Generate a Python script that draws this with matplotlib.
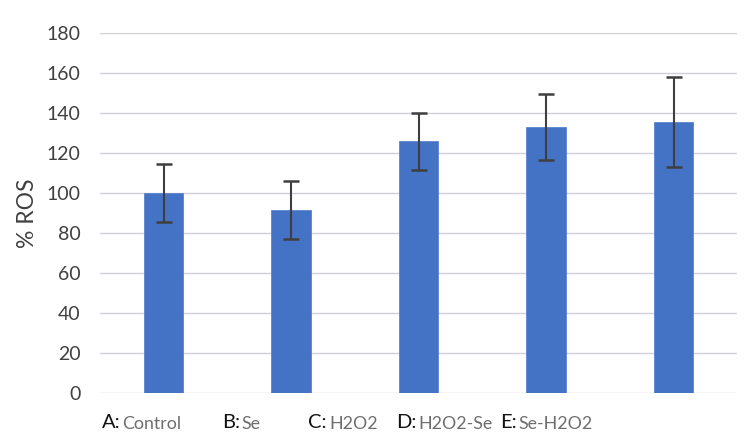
import matplotlib
matplotlib.use("Agg")
import matplotlib.pyplot as plt

plt.rcParams['font.family'] = ['Lato', 'DejaVu Sans']

prefixes = ['A:', 'B:', 'C:', 'D:', 'E:']
groups = ['Control', 'Se', 'H2O2', 'H2O2-Se', 'Se-H2O2']
ros = [100, 91.5, 125.8, 133, 135.5]
ros_err = [14.3, 14.7, 14.3, 16.7, 22.5]

fig = plt.figure(figsize=(7.5, 4.47), dpi=100)
ax = fig.add_axes([0.1333, 0.121, 0.8497, 0.805])

x = range(len(groups))
ax.bar(x, ros, width=0.31, color='#4472C4', edgecolor='#5a85d0', linewidth=0.6, zorder=2)
ax.errorbar(x, ros, yerr=ros_err, fmt='none', ecolor='#3f3f3f',
            elinewidth=1.5, capsize=6, capthick=1.8, zorder=3)

ax.set_xlim(-0.5, len(groups) - 0.5)
ax.set_ylim(0, 180)
ax.set_yticks(range(0, 181, 20))
ax.yaxis.grid(True, color='#d0d0d8', linewidth=1.0, zorder=0)
ax.set_axisbelow(True)
for s in ax.spines.values():
    s.set_visible(False)
ax.tick_params(axis='y', length=0, pad=14, labelsize=14, labelcolor='#404040')
ax.tick_params(axis='x', length=0)
ax.set_xticks([])
ax.set_ylabel('% ROS', fontsize=16.5, color='#404040', labelpad=6)

# labels in two colours: "A:" black, name grey
label_x = [0.003, 0.191, 0.327, 0.464, 0.628]
for lx, p, g in zip(label_x, prefixes, groups):
    t = ax.text(lx, -0.083, p, transform=ax.transAxes, fontsize=14.5,
                color='#111111', ha='left', va='center')
    ax.annotate(g, xy=(1, 0.45), xycoords=t, xytext=(1.5, 0), textcoords='offset points',
                fontsize=12.8, color='#6e6e6e', ha='left', va='center')

fig.savefig('out.png', dpi=100)
